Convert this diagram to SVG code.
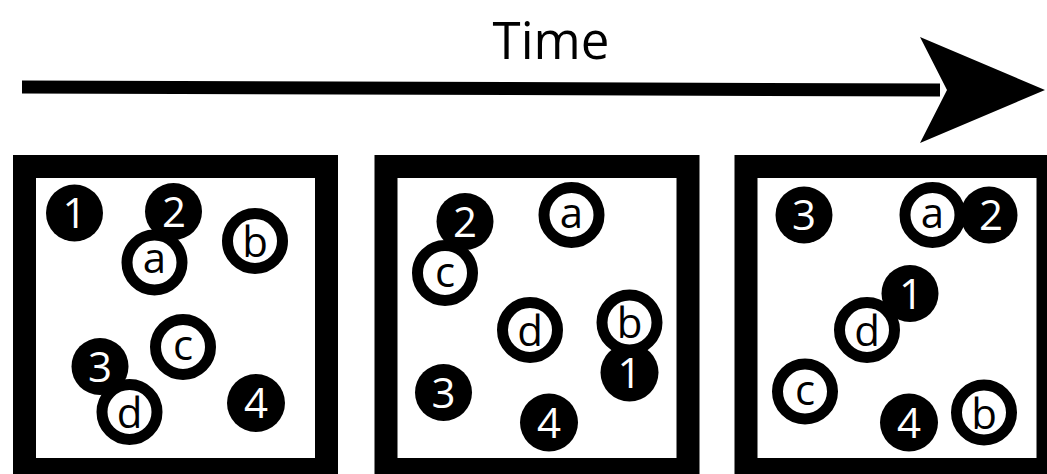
<svg xmlns="http://www.w3.org/2000/svg" width="1047" height="474" viewBox="0 0 1047 474">
<style>
.box{fill:#fff;stroke:#000;stroke-width:23}
.f{fill:#000}
.r{fill:#fff;stroke:#000;stroke-width:11}
.t{font-family:"Open Sans","Liberation Sans",sans-serif;font-weight:400;font-size:42px;text-anchor:middle}
.tw{fill:#fff}
.tb{fill:#000}
.title{font-family:"Open Sans","Liberation Sans",sans-serif;font-weight:400;font-size:51px;text-anchor:middle;fill:#000}
</style>
<rect width="1047" height="474" fill="#fff"/>
<g id="title"><text class="title" x="551" y="59">Time</text></g>
<g id="connectors">
<line x1="22" y1="87" x2="940" y2="90" stroke="#000" stroke-width="13"/>
<path d="M920,37 L1045,90 L920,143 L947,90 Z" fill="#000"/>
</g>
<g id="box1"><rect class="box" x="24.5" y="166.5" width="302" height="303"/></g>
<g id="box2"><rect class="box" x="386" y="166.5" width="302" height="303"/></g>
<g id="box3"><rect class="box" x="746" y="166.5" width="302" height="303"/></g>

<g id="b1-1"><circle class="f" cx="74.5" cy="213" r="28.5"/><text class="t tw" x="74.5" y="228">1</text></g>
<g id="b1-2"><circle class="f" cx="173.5" cy="211.5" r="28.5"/><text class="t tw" x="174" y="226.5">2</text></g>
<g id="b1-a"><circle class="r" cx="154.5" cy="262.5" r="27.5"/><text class="t tb" x="154.5" y="273">a</text></g>
<g id="b1-b"><circle class="r" cx="255" cy="241" r="27.5"/><text class="t tb" x="255" y="257">b</text></g>
<g id="b1-c"><circle class="r" cx="183" cy="347" r="27.5"/><text class="t tb" x="183" y="360">c</text></g>
<g id="b1-3"><circle class="f" cx="100" cy="366.5" r="28.5"/><text class="t tw" x="100" y="381.5">3</text></g>
<g id="b1-d"><circle class="r" cx="129.5" cy="412" r="27.5"/><text class="t tb" x="129.5" y="428">d</text></g>
<g id="b1-4"><circle class="f" cx="256" cy="403" r="29"/><text class="t tw" x="256" y="418">4</text></g>

<g id="b2-2"><circle class="f" cx="465" cy="221.5" r="28.5"/><text class="t tw" x="465" y="236.5">2</text></g>
<g id="b2-c"><circle class="r" cx="445" cy="273" r="27.5"/><text class="t tb" x="445" y="287">c</text></g>
<g id="b2-a"><circle class="r" cx="571.5" cy="215" r="27.5"/><text class="t tb" x="571.5" y="228">a</text></g>
<g id="b2-d"><circle class="r" cx="530" cy="330" r="27.5"/><text class="t tb" x="530" y="346">d</text></g>
<g id="b2-1"><circle class="f" cx="629.5" cy="372.5" r="29"/><text class="t tw" x="629.5" y="388">1</text></g>
<g id="b2-b"><circle class="r" cx="629.5" cy="322.5" r="27.5"/><text class="t tb" x="629.5" y="337.5">b</text></g>
<g id="b2-3"><circle class="f" cx="443.5" cy="392.5" r="28.5"/><text class="t tw" x="443.5" y="407.5">3</text></g>
<g id="b2-4"><circle class="f" cx="549" cy="422.5" r="29"/><text class="t tw" x="549" y="437.5">4</text></g>

<g id="b3-3"><circle class="f" cx="804" cy="215" r="28.5"/><text class="t tw" x="804" y="230">3</text></g>
<g id="b3-2"><circle class="f" cx="989" cy="215" r="28.5"/><text class="t tw" x="991" y="230">2</text></g>
<g id="b3-a"><circle class="r" cx="932.5" cy="215" r="27.5"/><text class="t tb" x="932.5" y="228">a</text></g>
<g id="b3-1"><circle class="f" cx="910" cy="293.5" r="28.5"/><text class="t tw" x="911" y="308.5">1</text></g>
<g id="b3-d"><circle class="r" cx="867" cy="330" r="27.5"/><text class="t tb" x="867" y="346">d</text></g>
<g id="b3-c"><circle class="r" cx="805" cy="391.5" r="27.5"/><text class="t tb" x="805" y="405">c</text></g>
<g id="b3-4"><circle class="f" cx="909" cy="422.5" r="29"/><text class="t tw" x="909" y="437.5">4</text></g>
<g id="b3-b"><circle class="r" cx="984" cy="412.5" r="27.5"/><text class="t tb" x="984" y="428.5">b</text></g>
</svg>
